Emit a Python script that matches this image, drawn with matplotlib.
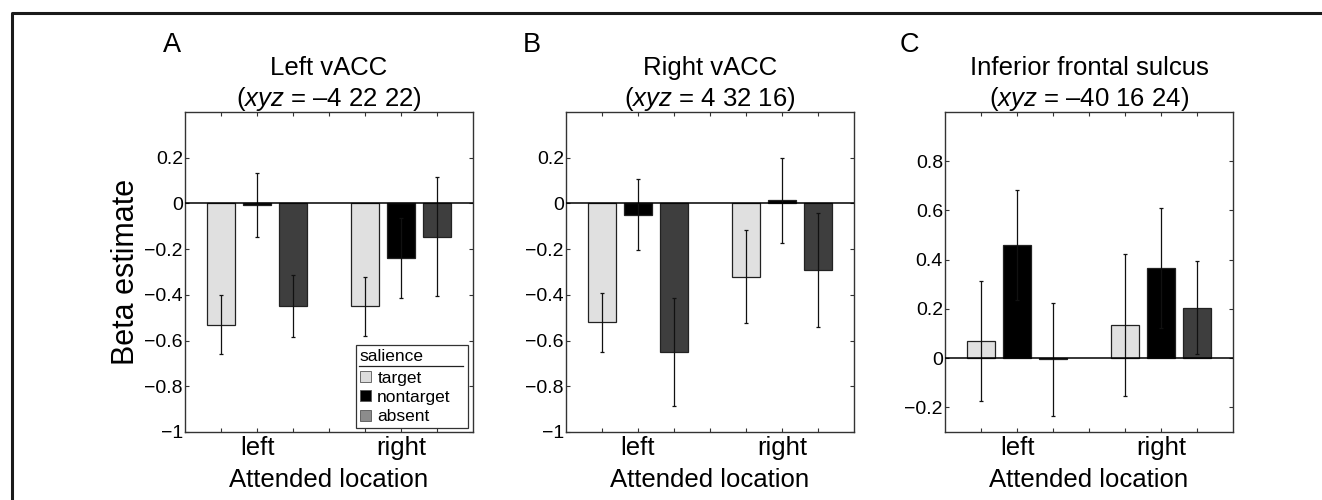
import matplotlib
matplotlib.use("Agg")
import matplotlib.pyplot as plt
from matplotlib.lines import Line2D
from matplotlib.patches import Patch
from matplotlib.ticker import FuncFormatter

plt.rcParams['font.family'] = ['Liberation Sans', 'DejaVu Sans']
plt.rcParams['mathtext.fontset'] = 'custom'
plt.rcParams['mathtext.rm'] = 'Liberation Sans'
plt.rcParams['mathtext.it'] = 'Liberation Sans:italic'

# data
locations = ['left', 'right']
salience = ['target', 'nontarget', 'absent']
tick_labels = ['', 'left', '', '', '', 'right', '']

panel_letters = ['A', 'B', 'C']
regions = ['Left vACC', 'Right vACC', 'Inferior frontal sulcus']
coords = ['\u20134 22 22', '4 32 16', '\u201340 16 24']

# beta estimates per attended location: [target, nontarget, absent]
A_left = [-0.53, -0.005, -0.45]
A_left_err = [0.13, 0.14, 0.135]
A_right = [-0.45, -0.24, -0.145]
A_right_err = [0.13, 0.175, 0.26]

B_left = [-0.52, -0.05, -0.65]
B_left_err = [0.13, 0.155, 0.235]
B_right = [-0.32, 0.013, -0.29]
B_right_err = [0.205, 0.185, 0.25]

C_left = [0.07, 0.46, -0.005]
C_left_err = [0.245, 0.225, 0.228]
C_right = [0.135, 0.365, 0.205]
C_right_err = [0.288, 0.243, 0.19]

A_yticks = [-1, -0.8, -0.6, -0.4, -0.2, 0, 0.2]
C_yticks = [-0.2, 0, 0.2, 0.4, 0.6, 0.8]

panels = [
    (A_left, A_left_err, A_right, A_right_err, (-1, 0.4), A_yticks),
    (B_left, B_left_err, B_right, B_right_err, (-1, 0.4), A_yticks),
    (C_left, C_left_err, C_right, C_right_err, (-0.3, 1.0), C_yticks),
]

bar_colors = ['#e0e0e0', '#000000', '#3e3e3e']
legend_colors = ['#dcdcdc', '#000000', '#8c8c8c']

W, H = 1322, 500
fig = plt.figure(figsize=(W / 100, H / 100), dpi=100)

ax_lefts = [185, 566, 945]
letter_x = [-0.076, -0.149, -0.156]


def fmt(v, pos):
    s = '%g' % v
    return s.replace('-', '\u2212')


leg = None
for i in range(3):
    left, left_err, right, right_err, ylim, yticks = panels[i]
    ax = fig.add_axes([ax_lefts[i] / W, (H - 432) / H, 288 / W, 320 / H])

    groups = [(2, left, left_err), (6, right, right_err)]
    for center, vals, errs in groups:
        for k in range(3):
            x = center + (k - 1)
            ax.bar(x, vals[k], width=0.8, color=bar_colors[k],
                   edgecolor='#222222', linewidth=0.9, zorder=2)
            ax.errorbar(x, vals[k], yerr=errs[k], color='#111111',
                        elinewidth=0.9, capsize=1.5, capthick=0.9,
                        fmt='none', zorder=3)

    ax.axhline(0, color='black', linewidth=1.1, zorder=4)
    ax.set_xlim(0, 8)
    ax.set_ylim(*ylim)
    ax.set_xticks(range(1, 8))
    ax.set_xticklabels(tick_labels, fontsize=18.5)
    ax.set_yticks(yticks)
    ax.yaxis.set_major_formatter(FuncFormatter(fmt))
    ax.tick_params(direction='in', length=3, width=0.8, color='#333333',
                   top=True, right=True)
    ax.tick_params(axis='y', labelsize=14, pad=1.5)
    ax.tick_params(axis='x', pad=3)
    for sp in ax.spines.values():
        sp.set_linewidth(1.0)
        sp.set_color('#333333')

    ax.set_xlabel('Attended location', fontsize=18.5)
    ax.xaxis.label.set_va('baseline')
    ax.xaxis.set_label_coords(0.5, -0.172)

    ax.text(0.5, 1.1156, regions[i], transform=ax.transAxes,
            ha='center', va='baseline', fontsize=18.5)
    ax.text(0.5, 1.019, '(' + r'$\it{xyz}$' + ' = ' + coords[i] + ')',
            transform=ax.transAxes, ha='center', va='baseline', fontsize=18.5)
    ax.text(letter_x[i], 1.1875, panel_letters[i], transform=ax.transAxes,
            ha='left', va='baseline', fontsize=19.5)

    if i == 0:
        ax.set_ylabel('Beta estimate', fontsize=22)
        ax.yaxis.set_label_coords(-0.153, 0.5)
        handles = [Patch(facecolor=legend_colors[k],
                         edgecolor='#555555', linewidth=0.6)
                   for k in range(3)]
        leg = ax.legend(handles, salience, title='salience',
                        loc='lower left',
                        bbox_to_anchor=(0.594, 0.0125, 0.389, 0.25),
                        mode='expand',
                        borderaxespad=0, fontsize=12.5, title_fontsize=12.5,
                        alignment='left', handlelength=0.65,
                        handleheight=0.6, handletextpad=0.35,
                        labelspacing=0.25, borderpad=0.22,
                        fancybox=False, framealpha=1, edgecolor='#333333')
        leg.get_frame().set_linewidth(0.9)
        leg.set_zorder(6)
        # a little more room between the title and the entries
        leg._legend_box.sep = 5

# rule under the legend title
fig.canvas.draw()
renderer = fig.canvas.get_renderer()
frame = leg.get_frame().get_window_extent(renderer)
tb = leg.get_title().get_window_extent(renderer)
y_line = tb.y0 - 2
fig.add_artist(Line2D([(frame.x0 + 3) / W, (frame.x1 - 5) / W],
                      [y_line / H, y_line / H], color='#222222',
                      linewidth=0.9, transform=fig.transFigure, zorder=8))

# outer frame (left and top edges visible)
x0 = 12 / W
y0 = 1 - 13 / H
fig.add_artist(Line2D([x0, x0, 1.01], [-0.01, y0, y0], color='#1a1a1a',
                      linewidth=2.2, transform=fig.transFigure))

fig.savefig('out.png', dpi=100)
